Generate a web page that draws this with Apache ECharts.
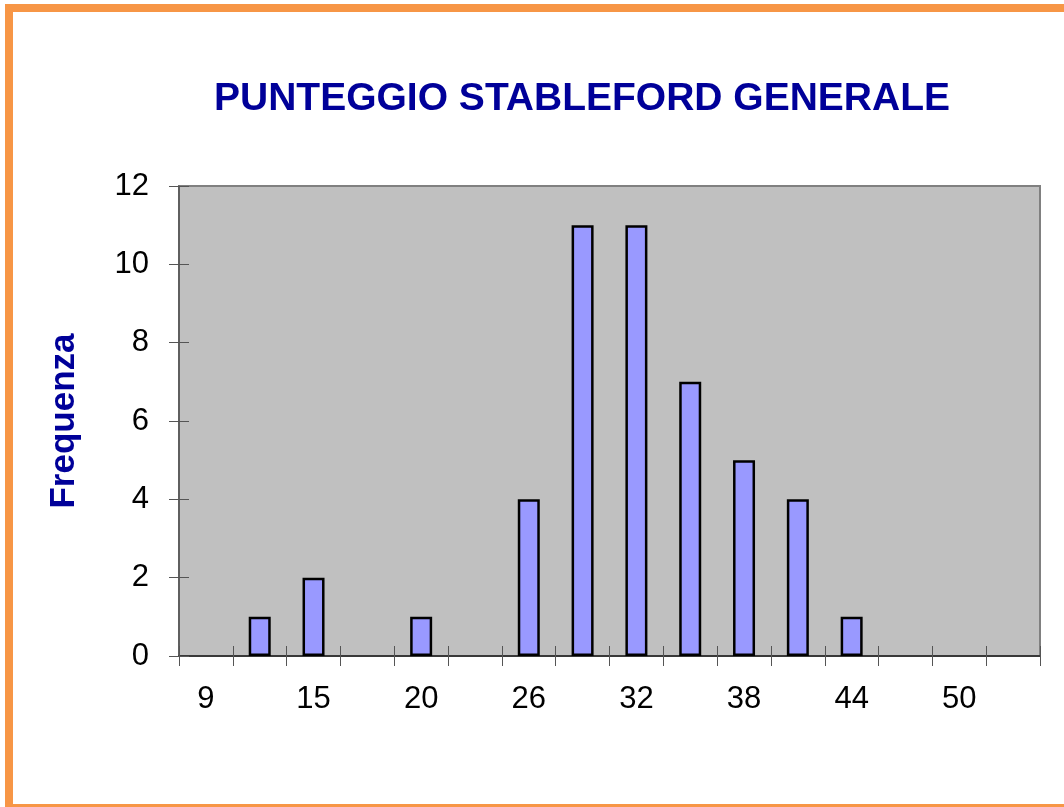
<!DOCTYPE html>
<html>
<head>
<meta charset="utf-8">
<script src="https://cdn.jsdelivr.net/npm/echarts@6/dist/echarts.min.js"></script>
<style>
  html, body { margin: 0; padding: 0; background: #fff; }
  #chart { position: absolute; left: 0; top: 0; width: 1064px; height: 807px; }
  /* cornice arancione */
  #frame {
    position: absolute; left: 5px; top: 4px; width: 1080px; height: 792px;
    border: 8px solid #F79646; pointer-events: none;
  }
</style>
</head>
<body>
<div id="chart"></div>
<div id="frame"></div>
<script>
// classi del punteggio (solo una su due ha l'etichetta visibile)
const classi = ['9', '12', '15', '17', '20', '23', '26', '29', '32', '35', '38', '41', '44', '47', '50', '53'];
const frequenze = [0, 1, 2, 0, 1, 0, 4, 11, 11, 7, 5, 4, 1, 0, 0, 0];
const yTicks = [0, 2, 4, 6, 8, 10, 12];

const font = 'Liberation Sans, Arial, sans-serif';
const chart = echarts.init(document.getElementById('chart'));

const option = {
  animation: false,
  title: {
    text: 'PUNTEGGIO STABLEFORD GENERALE',
    left: 577,
    textAlign: 'center',
    top: 75,
    textStyle: { fontFamily: font, fontSize: 39, fontWeight: 'bold', color: '#000099' }
  },
  grid: {
    left: 179, top: 186, right: 24, bottom: 151,
    show: true, backgroundColor: '#C0C0C0', borderColor: '#808080', borderWidth: 2
  },
  xAxis: [{
    type: 'category',
    data: classi,
    axisLine: { lineStyle: { color: '#222', width: 1.5 } },
    axisTick: { show: true, interval: 0, length: 10, lineStyle: { color: '#555' } },
    axisLabel: { interval: 1, margin: 28, fontFamily: font, fontSize: 31, color: '#000' }
  }, {
    // tacche interne
    type: 'category', data: classi, position: 'bottom',
    axisLine: { show: false },
    axisTick: { show: true, inside: true, interval: 0, length: 10, lineStyle: { color: '#555' } },
    axisLabel: { show: false }
  }],
  yAxis: [{
    type: 'value',
    min: yTicks[0], max: yTicks[yTicks.length - 1], interval: 2,
    name: 'Frequenza',
    nameLocation: 'middle',
    nameGap: 97,
    nameTextStyle: { fontFamily: font, fontSize: 35, fontWeight: 'bold', color: '#000099' },
    axisLine: { show: true, lineStyle: { color: '#555', width: 1.5 } },
    axisTick: { show: true, length: 10, lineStyle: { color: '#555' } },
    axisLabel: { margin: 30, fontFamily: font, fontSize: 31, color: '#000' },
    splitLine: { show: false }
  }, {
    type: 'value', position: 'left',
    min: yTicks[0], max: yTicks[yTicks.length - 1], interval: 2,
    axisLine: { show: false },
    axisTick: { show: true, inside: true, length: 10, lineStyle: { color: '#555' } },
    axisLabel: { show: false },
    splitLine: { show: false }
  }],
  series: [{
    name: 'Frequenza',
    type: 'bar',
    // le classi vuote non hanno barra
    data: frequenze.map(v => (v === 0 ? '-' : v)),
    barWidth: 22,
    itemStyle: { color: '#9999FF', borderColor: '#000', borderWidth: 2.5 }
  }]
};
chart.setOption(option);
</script>
</body>
</html>
